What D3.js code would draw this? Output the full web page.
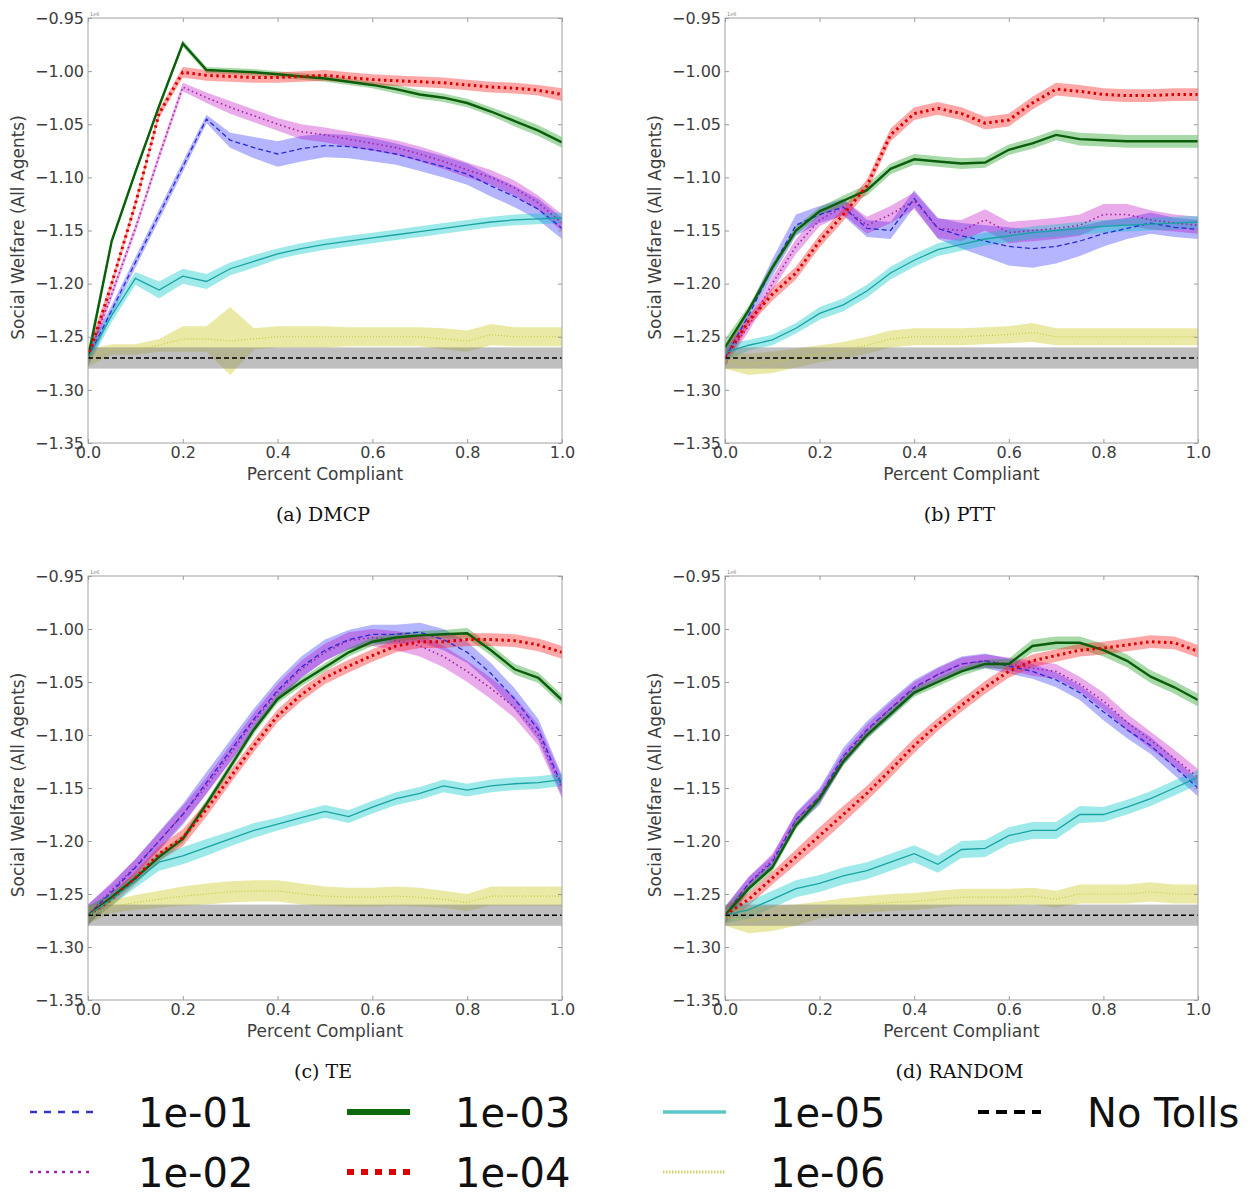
<!DOCTYPE html>
<html><head><meta charset="utf-8">
<script src="https://cdn.jsdelivr.net/npm/d3@7"></script>
<style>body{margin:0;background:#fff;}svg{display:block;}</style>
</head><body>
<svg id="chart" width="1257" height="1197"></svg>
<script>
// ---------------- DATA ----------------
const xValues = [0,0.05,0.1,0.15,0.2,0.25,0.3,0.35,0.4,0.45,0.5,0.55,0.6,0.65,0.7,0.75,0.8,0.85,0.9,0.95,1.0];
const seriesKeys = ["1e-01","1e-02","1e-03","1e-04","1e-05","1e-06"];
const legendLabels = ["1e-01","1e-02","1e-03","1e-04","1e-05","1e-06","No Tolls"];
const panelCaptions = ["(a) DMCP","(b) PTT","(c) TE","(d) RANDOM"];
const xTickValues = [0,0.2,0.4,0.6,0.8,1.0];
const yTickValues = [-0.95,-1.00,-1.05,-1.10,-1.15,-1.20,-1.25,-1.30,-1.35];
const xAxisLabel = "Percent Compliant";
const yAxisLabel = "Social Welfare (All Agents)";
const offsetLabel = "1e6";
const noTollsMean = -1.27;
const noTollsLow = -1.28;
const noTollsHigh = -1.26;

// (a) DMCP
const dmcp_1e01 = [-1.27,-1.225,-1.18,-1.135,-1.09,-1.045,-1.065,-1.072,-1.078,-1.073,-1.07,-1.071,-1.074,-1.078,-1.084,-1.09,-1.097,-1.108,-1.118,-1.13,-1.148];
const dmcp_1e01_err = [0.008,0.005,0.005,0.005,0.005,0.004,0.007,0.01,0.012,0.012,0.011,0.011,0.011,0.01,0.01,0.01,0.01,0.01,0.01,0.01,0.01];
const dmcp_1e02 = [-1.27,-1.21,-1.148,-1.08,-1.015,-1.025,-1.034,-1.042,-1.05,-1.057,-1.06,-1.064,-1.068,-1.072,-1.078,-1.085,-1.093,-1.1,-1.11,-1.124,-1.143];
const dmcp_1e02_err = [0.008,0.004,0.004,0.004,0.004,0.005,0.006,0.006,0.006,0.007,0.007,0.007,0.007,0.007,0.007,0.007,0.007,0.007,0.007,0.007,0.008];
const dmcp_1e03 = [-1.27,-1.16,-1.095,-1.033,-0.974,-0.999,-1.0,-1.001,-1.003,-1.005,-1.007,-1.01,-1.013,-1.017,-1.022,-1.025,-1.03,-1.038,-1.047,-1.056,-1.067];
const dmcp_1e03_err = [0.008,0.003,0.003,0.003,0.003,0.003,0.003,0.003,0.003,0.003,0.003,0.003,0.003,0.004,0.004,0.004,0.004,0.004,0.005,0.005,0.005];
const dmcp_1e04 = [-1.27,-1.2,-1.125,-1.04,-1.001,-1.004,-1.005,-1.006,-1.006,-1.005,-1.004,-1.006,-1.008,-1.009,-1.01,-1.011,-1.013,-1.015,-1.016,-1.018,-1.022];
const dmcp_1e04_err = [0.008,0.004,0.004,0.004,0.005,0.005,0.005,0.005,0.005,0.005,0.005,0.005,0.005,0.005,0.005,0.005,0.005,0.005,0.005,0.005,0.006];
const dmcp_1e05 = [-1.27,-1.23,-1.195,-1.206,-1.193,-1.198,-1.186,-1.179,-1.172,-1.167,-1.163,-1.16,-1.157,-1.154,-1.151,-1.148,-1.145,-1.142,-1.14,-1.139,-1.138];
const dmcp_1e05_err = [0.008,0.006,0.006,0.008,0.007,0.007,0.006,0.006,0.005,0.005,0.005,0.005,0.005,0.005,0.005,0.005,0.005,0.005,0.005,0.005,0.005];
const dmcp_1e06 = [-1.27,-1.262,-1.262,-1.258,-1.252,-1.252,-1.254,-1.252,-1.25,-1.25,-1.25,-1.25,-1.25,-1.25,-1.25,-1.252,-1.254,-1.248,-1.25,-1.25,-1.25];
const dmcp_1e06_err = [0.008,0.005,0.005,0.006,0.012,0.012,0.032,0.01,0.01,0.01,0.01,0.009,0.009,0.009,0.009,0.01,0.01,0.01,0.009,0.009,0.009];

// (b) PTT
const ptt_1e01 = [-1.27,-1.23,-1.185,-1.145,-1.135,-1.128,-1.148,-1.15,-1.12,-1.148,-1.155,-1.16,-1.165,-1.167,-1.165,-1.16,-1.153,-1.148,-1.143,-1.147,-1.149];
const ptt_1e01_err = [0.008,0.006,0.008,0.01,0.008,0.008,0.008,0.008,0.008,0.01,0.012,0.015,0.018,0.018,0.016,0.014,0.012,0.01,0.01,0.009,0.009];
const ptt_1e02 = [-1.27,-1.24,-1.2,-1.165,-1.14,-1.128,-1.145,-1.135,-1.122,-1.148,-1.15,-1.14,-1.152,-1.15,-1.148,-1.145,-1.135,-1.135,-1.14,-1.143,-1.145];
const ptt_1e02_err = [0.008,0.005,0.006,0.007,0.006,0.007,0.008,0.008,0.008,0.009,0.01,0.01,0.01,0.01,0.01,0.01,0.01,0.01,0.009,0.008,0.008];
const ptt_1e03 = [-1.26,-1.225,-1.185,-1.15,-1.132,-1.122,-1.112,-1.092,-1.083,-1.085,-1.087,-1.086,-1.074,-1.068,-1.06,-1.064,-1.065,-1.066,-1.066,-1.066,-1.066];
const ptt_1e03_err = [0.008,0.004,0.004,0.004,0.004,0.005,0.005,0.005,0.005,0.005,0.005,0.005,0.005,0.005,0.005,0.006,0.006,0.006,0.006,0.006,0.006];
const ptt_1e04 = [-1.27,-1.235,-1.21,-1.19,-1.16,-1.135,-1.108,-1.06,-1.04,-1.035,-1.04,-1.049,-1.046,-1.03,-1.017,-1.019,-1.022,-1.023,-1.023,-1.022,-1.022];
const ptt_1e04_err = [0.008,0.005,0.006,0.006,0.006,0.006,0.006,0.006,0.006,0.006,0.006,0.006,0.006,0.006,0.006,0.006,0.006,0.006,0.006,0.006,0.006];
const ptt_1e05 = [-1.265,-1.258,-1.253,-1.242,-1.228,-1.22,-1.207,-1.19,-1.178,-1.168,-1.163,-1.158,-1.155,-1.152,-1.15,-1.148,-1.146,-1.145,-1.144,-1.143,-1.142];
const ptt_1e05_err = [0.008,0.005,0.005,0.005,0.006,0.006,0.006,0.006,0.006,0.006,0.006,0.006,0.006,0.006,0.006,0.006,0.006,0.006,0.006,0.006,0.006];
const ptt_1e06 = [-1.272,-1.276,-1.274,-1.27,-1.266,-1.263,-1.258,-1.252,-1.25,-1.25,-1.25,-1.249,-1.248,-1.246,-1.25,-1.25,-1.25,-1.25,-1.25,-1.25,-1.25];
const ptt_1e06_err = [0.008,0.01,0.01,0.009,0.008,0.008,0.008,0.008,0.008,0.008,0.008,0.008,0.008,0.009,0.008,0.008,0.008,0.008,0.008,0.008,0.008];

// (c) TE
const te_1e01 = [-1.27,-1.248,-1.225,-1.2,-1.175,-1.145,-1.115,-1.085,-1.058,-1.036,-1.02,-1.01,-1.005,-1.005,-1.003,-1.01,-1.022,-1.042,-1.066,-1.095,-1.148];
const te_1e01_err = [0.01,0.008,0.008,0.009,0.01,0.01,0.01,0.01,0.01,0.01,0.01,0.009,0.009,0.009,0.009,0.01,0.01,0.01,0.01,0.01,0.01];
const te_1e02 = [-1.27,-1.246,-1.224,-1.2,-1.175,-1.148,-1.118,-1.087,-1.06,-1.038,-1.022,-1.011,-1.008,-1.011,-1.016,-1.026,-1.04,-1.056,-1.074,-1.1,-1.15];
const te_1e02_err = [0.01,0.007,0.007,0.008,0.008,0.008,0.008,0.008,0.008,0.008,0.008,0.008,0.008,0.009,0.01,0.01,0.01,0.01,0.01,0.01,0.01];
const te_1e03 = [-1.27,-1.253,-1.235,-1.215,-1.198,-1.165,-1.13,-1.095,-1.066,-1.05,-1.036,-1.022,-1.012,-1.008,-1.006,-1.005,-1.004,-1.02,-1.038,-1.046,-1.067];
const te_1e03_err = [0.008,0.004,0.004,0.004,0.004,0.004,0.004,0.004,0.004,0.004,0.004,0.004,0.004,0.004,0.004,0.004,0.005,0.005,0.005,0.005,0.005];
const te_1e04 = [-1.27,-1.255,-1.235,-1.212,-1.197,-1.17,-1.14,-1.11,-1.082,-1.062,-1.046,-1.035,-1.025,-1.016,-1.012,-1.012,-1.01,-1.01,-1.011,-1.015,-1.022];
const te_1e04_err = [0.008,0.006,0.006,0.007,0.008,0.007,0.006,0.006,0.006,0.006,0.006,0.006,0.006,0.006,0.006,0.006,0.006,0.006,0.006,0.006,0.006];
const te_1e05 = [-1.27,-1.255,-1.238,-1.22,-1.214,-1.206,-1.198,-1.19,-1.184,-1.178,-1.172,-1.177,-1.168,-1.16,-1.155,-1.148,-1.152,-1.148,-1.146,-1.145,-1.142];
const te_1e05_err = [0.008,0.006,0.006,0.008,0.008,0.008,0.007,0.007,0.006,0.006,0.006,0.006,0.006,0.006,0.006,0.006,0.006,0.006,0.006,0.006,0.006];
const te_1e06 = [-1.27,-1.262,-1.258,-1.255,-1.252,-1.25,-1.248,-1.247,-1.247,-1.25,-1.252,-1.253,-1.253,-1.252,-1.253,-1.255,-1.258,-1.252,-1.252,-1.252,-1.252];
const te_1e06_err = [0.008,0.006,0.007,0.008,0.009,0.01,0.01,0.01,0.01,0.01,0.009,0.009,0.009,0.009,0.009,0.008,0.008,0.009,0.009,0.009,0.009];

// (d) RANDOM
const rnd_1e01 = [-1.27,-1.24,-1.22,-1.18,-1.158,-1.12,-1.095,-1.075,-1.055,-1.043,-1.033,-1.03,-1.035,-1.04,-1.048,-1.06,-1.078,-1.095,-1.11,-1.13,-1.15];
const rnd_1e01_err = [0.008,0.006,0.006,0.007,0.008,0.008,0.008,0.008,0.007,0.007,0.007,0.007,0.007,0.007,0.007,0.007,0.008,0.008,0.008,0.008,0.008];
const rnd_1e02 = [-1.27,-1.24,-1.218,-1.18,-1.158,-1.122,-1.096,-1.075,-1.056,-1.043,-1.033,-1.03,-1.033,-1.037,-1.04,-1.052,-1.068,-1.088,-1.105,-1.122,-1.14];
const rnd_1e02_err = [0.008,0.006,0.006,0.006,0.006,0.006,0.006,0.006,0.006,0.006,0.006,0.006,0.006,0.007,0.007,0.007,0.008,0.008,0.008,0.008,0.008];
const rnd_1e03 = [-1.27,-1.245,-1.225,-1.185,-1.16,-1.125,-1.1,-1.08,-1.06,-1.05,-1.04,-1.033,-1.033,-1.016,-1.013,-1.013,-1.02,-1.03,-1.045,-1.055,-1.067];
const rnd_1e03_err = [0.008,0.004,0.004,0.004,0.004,0.004,0.004,0.004,0.004,0.004,0.004,0.004,0.005,0.006,0.006,0.006,0.006,0.006,0.006,0.006,0.006];
const rnd_1e04 = [-1.27,-1.255,-1.235,-1.215,-1.195,-1.175,-1.155,-1.133,-1.11,-1.09,-1.072,-1.055,-1.04,-1.03,-1.025,-1.02,-1.018,-1.015,-1.012,-1.013,-1.021];
const rnd_1e04_err = [0.008,0.006,0.006,0.007,0.008,0.008,0.007,0.007,0.007,0.006,0.006,0.006,0.006,0.006,0.006,0.006,0.006,0.006,0.006,0.006,0.006];
const rnd_1e05 = [-1.27,-1.265,-1.255,-1.245,-1.24,-1.233,-1.228,-1.22,-1.212,-1.222,-1.208,-1.207,-1.195,-1.19,-1.19,-1.175,-1.175,-1.168,-1.16,-1.15,-1.14];
const rnd_1e05_err = [0.008,0.008,0.008,0.008,0.008,0.008,0.008,0.008,0.008,0.008,0.008,0.008,0.008,0.008,0.008,0.008,0.007,0.007,0.007,0.007,0.007];
const rnd_1e06 = [-1.272,-1.275,-1.273,-1.27,-1.265,-1.262,-1.26,-1.258,-1.257,-1.255,-1.253,-1.253,-1.253,-1.252,-1.255,-1.25,-1.25,-1.25,-1.248,-1.25,-1.25];
const rnd_1e06_err = [0.008,0.012,0.012,0.01,0.008,0.008,0.008,0.008,0.008,0.008,0.008,0.008,0.008,0.008,0.008,0.009,0.009,0.009,0.009,0.009,0.009];

// ---------------- STYLE / LAYOUT ----------------
const seriesStyles = {
  "1e-01": {line:"#2a2ad8", fill:"#3a3aff", fillOp:0.38, width:1.3, dash:"5,3"},
  "1e-02": {line:"#a41fa4", fill:"#bf00bf", fillOp:0.33, width:1.6, dash:"1.5,3"},
  "1e-03": {line:"#0b5e0b", fill:"#1a9a1a", fillOp:0.38, width:2.4, dash:null},
  "1e-04": {line:"#dd0000", fill:"#ff2020", fillOp:0.4, width:3, dash:"2.5,3.5"},
  "1e-05": {line:"#1aa3a3", fill:"#00c4c4", fillOp:0.38, width:1.3, dash:null},
  "1e-06": {line:"#c9c93a", fill:"#c4c400", fillOp:0.35, width:1.2, dash:"1,2"}
};
const legendStyles = [
  {line:"#3535c8", width:2.5, dash:"7,7"},
  {line:"#9a2a9a", width:2.5, dash:"3,5"},
  {line:"#0b6a0b", width:6, dash:null},
  {line:"#dd0000", width:6, dash:"7,7"},
  {line:"#5cc6c6", width:3.5, dash:null},
  {line:"#d0d070", width:3, dash:"1.5,1.5"},
  {line:"#000000", width:4, dash:"11,7"}
];

const panelData = [
  [dmcp_1e01,dmcp_1e01_err,dmcp_1e02,dmcp_1e02_err,dmcp_1e03,dmcp_1e03_err,dmcp_1e04,dmcp_1e04_err,dmcp_1e05,dmcp_1e05_err,dmcp_1e06,dmcp_1e06_err],
  [ptt_1e01,ptt_1e01_err,ptt_1e02,ptt_1e02_err,ptt_1e03,ptt_1e03_err,ptt_1e04,ptt_1e04_err,ptt_1e05,ptt_1e05_err,ptt_1e06,ptt_1e06_err],
  [te_1e01,te_1e01_err,te_1e02,te_1e02_err,te_1e03,te_1e03_err,te_1e04,te_1e04_err,te_1e05,te_1e05_err,te_1e06,te_1e06_err],
  [rnd_1e01,rnd_1e01_err,rnd_1e02,rnd_1e02_err,rnd_1e03,rnd_1e03_err,rnd_1e04,rnd_1e04_err,rnd_1e05,rnd_1e05_err,rnd_1e06,rnd_1e06_err]
];
const panelLayouts = [
  {left:88, top:18, width:474, height:425},
  {left:725, top:18, width:473, height:425},
  {left:88, top:576, width:474, height:424},
  {left:725, top:576, width:473, height:424}
];

const svg = d3.select("#chart");
const FONT = "'DejaVu Sans', sans-serif";
const textColor = "#3d3d3d";

panelLayouts.forEach((L, pi) => {
  const g = svg.append("g").attr("transform", `translate(${L.left},${L.top})`);
  const x = d3.scaleLinear().domain([0,1]).range([0, L.width]);
  const y = d3.scaleLinear().domain([-1.35,-0.95]).range([L.height, 0]);
  const clipId = "clip" + pi;
  g.append("clipPath").attr("id", clipId).append("rect").attr("width", L.width).attr("height", L.height);
  const plot = g.append("g").attr("clip-path", `url(#${clipId})`);

  const area = d3.area().x(d => x(d.x)).y0(d => y(d.lo)).y1(d => y(d.hi));
  const line = d3.line().x(d => x(d.x)).y(d => y(d.y));
  const arrs = panelData[pi];

  seriesKeys.forEach((k, si) => {
    const m = arrs[si*2], e = arrs[si*2+1];
    const pts = xValues.map((xv, i) => ({x:xv, y:m[i], lo:m[i]-e[i], hi:m[i]+e[i]}));
    const st = seriesStyles[k];
    plot.append("path").datum(pts).attr("d", area)
      .attr("fill", st.fill).attr("fill-opacity", st.fillOp).attr("stroke", "none");
  });
  plot.append("rect").attr("x", x(0)).attr("width", x(1) - x(0))
    .attr("y", y(noTollsHigh)).attr("height", y(noTollsLow) - y(noTollsHigh))
    .attr("fill", "#7f7f7f").attr("fill-opacity", 0.5);

  seriesKeys.forEach((k, si) => {
    const m = arrs[si*2];
    const pts = xValues.map((xv, i) => ({x:xv, y:m[i]}));
    const st = seriesStyles[k];
    const p = plot.append("path").datum(pts).attr("d", line)
      .attr("fill", "none").attr("stroke", st.line).attr("stroke-width", st.width);
    if (st.dash) p.attr("stroke-dasharray", st.dash);
  });
  plot.append("line").attr("x1", x(0)).attr("x2", x(1)).attr("y1", y(noTollsMean)).attr("y2", y(noTollsMean))
    .attr("stroke", "#000").attr("stroke-width", 1.5).attr("stroke-dasharray", "5,3");

  const yAx = g.append("g").call(d3.axisLeft(y).tickValues(yTickValues).tickFormat(d3.format(".2f")).tickSizeInner(-4).tickSizeOuter(0).tickPadding(4));
  const xAx = g.append("g").attr("transform", `translate(0,${L.height})`)
    .call(d3.axisBottom(x).tickValues(xTickValues).tickFormat(d3.format(".1f")).tickSizeInner(-4).tickSizeOuter(0).tickPadding(2));
  const yAxR = g.append("g").attr("transform", `translate(${L.width},0)`).call(d3.axisRight(y).tickValues(yTickValues).tickSizeInner(-4).tickSizeOuter(0).tickFormat(""));
  const xAxT = g.append("g").call(d3.axisTop(x).tickValues(xTickValues).tickSizeInner(-4).tickSizeOuter(0).tickFormat(""));
  [yAx, xAx, yAxR, xAxT].forEach(a => {
    a.select(".domain").remove();
    a.selectAll(".tick line").attr("stroke", "#9a9a9a");
    a.selectAll("text").attr("font-family", FONT).attr("font-size", 16).attr("fill", textColor);
  });
  xAx.selectAll("text").attr("dy", "0.8em");
  g.append("rect").attr("width", L.width).attr("height", L.height)
    .attr("fill", "none").attr("stroke", "#a0a0a0").attr("stroke-width", 1);
  g.append("text").attr("x", 2).attr("y", -2).text(offsetLabel)
    .attr("font-family", FONT).attr("font-size", 5).attr("fill", "#888");
  g.append("text").attr("x", L.width/2).attr("y", L.height + 37).attr("text-anchor", "middle")
    .attr("font-family", FONT).attr("font-size", 17).attr("fill", textColor).text(xAxisLabel);
  g.append("text").attr("transform", `translate(${-64},${L.height/2 - 3}) rotate(-90)`).attr("text-anchor", "middle")
    .attr("font-family", FONT).attr("font-size", 17).attr("fill", textColor).text(yAxisLabel);
  g.append("text").attr("x", L.width/2 - 2).attr("y", L.height + 78).attr("text-anchor", "middle")
    .attr("font-family", "'DejaVu Serif', serif").attr("font-size", 19).attr("fill", "#111").text(panelCaptions[pi]);
});

const legendPositions = [
  {lx:30, tx:138, y:1112}, {lx:30, tx:138, y:1172},
  {lx:347, tx:455, y:1112}, {lx:347, tx:455, y:1172},
  {lx:663, tx:770, y:1112}, {lx:663, tx:770, y:1172},
  {lx:978, tx:1087, y:1112}
];
legendLabels.forEach((lab, i) => {
  const P = legendPositions[i], st = legendStyles[i];
  const ln = svg.append("line").attr("x1", P.lx).attr("x2", P.lx + 63).attr("y1", P.y).attr("y2", P.y)
    .attr("stroke", st.line).attr("stroke-width", st.width);
  if (st.dash) ln.attr("stroke-dasharray", st.dash);
  svg.append("text").attr("x", P.tx).attr("y", P.y + 15).text(lab)
    .attr("font-family", FONT).attr("font-size", 40).attr("fill", "#111");
});
</script>
</body></html>
